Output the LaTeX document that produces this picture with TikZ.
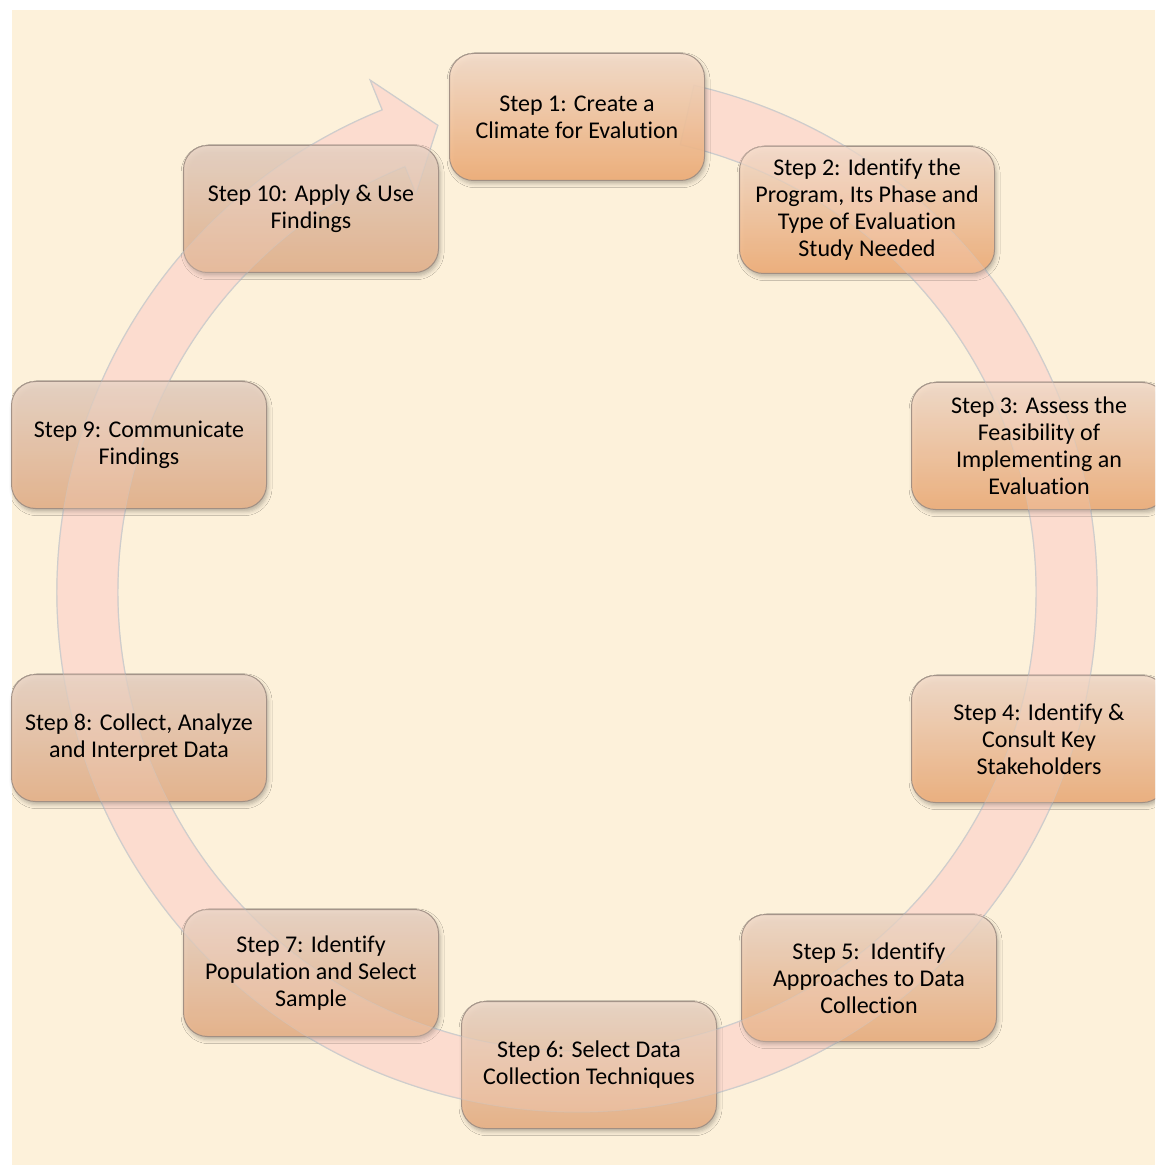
\documentclass[tikz,border=0pt]{standalone}
\usepackage{fontspec}
\setmainfont{Carlito}[Ligatures=NoCommon]
\usetikzlibrary{shadows.blur}

\definecolor{parchment}{HTML}{FDF1DA}
\definecolor{ringpink}{HTML}{FCDCCF}
\definecolor{boxline}{HTML}{9C8C82}
\definecolor{warmtop}{HTML}{F6DFCD}
\definecolor{warmbot}{HTML}{F2AF78}
\definecolor{dulltop}{HTML}{E7D3C5}
\definecolor{dullbot}{HTML}{E6B48E}

\tikzset{
  % rounded step card; #1 = share of the warm orange tint
  stepbox/.style={rectangle, rounded corners=12pt,
    minimum width=127.5pt, minimum height=63.5pt, inner sep=0pt,
    draw=boxline, line width=0.5pt,
    top color=warmtop!#1!dulltop, bottom color=warmbot!#1!dullbot,
    fill opacity=0.9, draw opacity=0.9,
    blur shadow={shadow xshift=0.8pt, shadow yshift=-1.6pt,
      shadow blur radius=2pt, shadow opacity=30}},
  steptext/.style={align=center, text=black, inner sep=0pt,
    font=\fontsize{12pt}{13.5pt}\selectfont},
  cyclering/.style={fill=ringpink, draw=black!20, line width=0.6pt},
  ghostfill/.style={fill=ringpink, fill opacity=0.22},
  ghostedge/.style={draw=black!20, draw opacity=0.3, line width=0.5pt}
}

\begin{document}
\begin{tikzpicture}[x=0.5pt, y=-0.5pt]
  \useasboundingbox (0,0) rectangle (1155,1165);
  \begin{scope}
    \clip (0,0) rectangle (1155,1165);
    % paper background
    \fill[parchment] (12,10) rectangle (1155,1165);

    % circular arrow running clockwise, head pointing at step 1
    \begin{scope}[shift={(577,592)}, y=0.5pt]
      \path[cyclering] (77:520) arc[start angle=77, end angle=-248, radius=520]
        -- (-248:552) -- (-253.4:487) -- (-248:430) -- (-248:459)
        arc[start angle=-248, end angle=77, radius=459] -- cycle;
    \end{scope}

    % the ten translucent cards
    \node[stepbox=100] (s1)  at (577,117)  {};
    \node[stepbox=95]  (s2)  at (867,210)  {};
    \node[stepbox=85]  (s3)  at (1039,446) {};
    \node[stepbox=80]  (s4)  at (1039,739) {};
    \node[stepbox=60]  (s5)  at (869,978)  {};
    \node[stepbox=35]  (s6)  at (589,1065) {};
    \node[stepbox=20]  (s7)  at (311,973)  {};
    \node[stepbox=15]  (s8)  at (139,738)  {};
    \node[stepbox=10]  (s9)  at (139,445)  {};
    \node[stepbox=0]   (s10) at (311,209)  {};

    % the arrow faintly seen through the cards
    \begin{scope}[shift={(577,592)}, y=0.5pt]
      \path[ghostfill] (71:520) arc[start angle=71, end angle=-248, radius=520]
        -- (-248:552) -- (-253.4:487) -- (-248:430) -- (-248:459)
        arc[start angle=-248, end angle=71, radius=459] -- cycle;
      \path[ghostedge] (71:520) arc[start angle=71, end angle=-248, radius=520]
        -- (-248:552) -- (-253.4:487) -- (-248:430) -- (-248:459)
        arc[start angle=-248, end angle=71, radius=459];
    \end{scope}

    % card labels
    \node[steptext] (t1)  at (s1)  {Step 1: Create a\\Climate for Evalution};
    \node[steptext] (t2)  at (s2)  {Step 2: Identify the\\Program, Its Phase and\\Type of Evaluation\\Study Needed};
    \node[steptext] (t3)  at (s3)  {Step 3: Assess the\\Feasibility of\\Implementing an\\Evaluation};
    \node[steptext] (t4)  at (s4)  {Step 4: Identify \&\\Consult Key\\Stakeholders};
    \node[steptext] (t5)  at (s5)  {Step 5:\ \ Identify\\Approaches to Data\\Collection};
    \node[steptext] (t6)  at (s6)  {Step 6: Select Data\\Collection Techniques};
    \node[steptext] (t7)  at (s7)  {Step 7: Identify\\Population and Select\\Sample};
    \node[steptext] (t8)  at (s8)  {Step 8: Collect, Analyze\\and Interpret Data};
    \node[steptext] (t9)  at (s9)  {Step 9: Communicate\\Findings};
    \node[steptext] (t10) at (s10) {Step 10: Apply \& Use\\Findings};
  \end{scope}
\end{tikzpicture}
\end{document}
